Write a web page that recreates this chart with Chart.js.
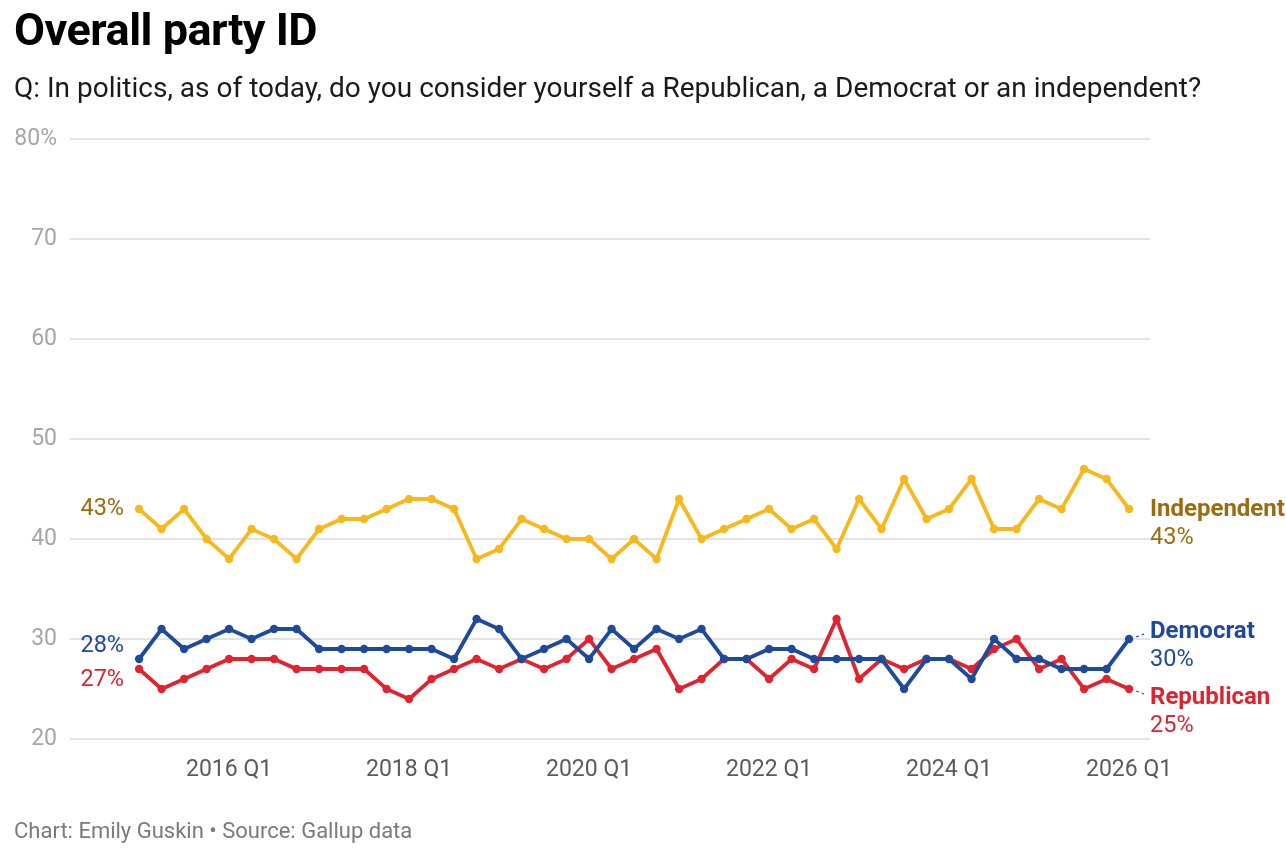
<!DOCTYPE html>
<html>
<head>
<meta charset="utf-8">
<script src="https://cdn.jsdelivr.net/npm/chart.js@4.4.1/dist/chart.umd.min.js"></script>
<style>
  body { margin: 0; background: #fff; font-family: Roboto, sans-serif; }
  #wrap { position: relative; width: 1286px; height: 858px; overflow: hidden; }
  #chart { position: absolute; left: 0; top: 0; }
  .txt { position: absolute; left: 14px; white-space: nowrap; line-height: 1; }
  #title { top: 7px; font-size: 45px; font-weight: 700; color: #000; letter-spacing: -0.5px; }
  #subtitle { top: 74px; font-size: 28px; color: #1a1a1a; }
  #footer { top: 820px; font-size: 22px; color: #7a7a7a; }
</style>
</head>
<body>
<div id="wrap">
  <canvas id="chart" width="1286" height="858"></canvas>
  <div class="txt" id="title">Overall party ID</div>
  <div class="txt" id="subtitle">Q: In politics, as of today, do you consider yourself a Republican, a Democrat or an independent?</div>
  <div class="txt" id="footer">Chart: Emily Guskin • Source: Gallup data</div>
</div>
<script>
// Dados
const quarters = [
  '2015 Q1','2015 Q2','2015 Q3','2015 Q4',
  '2016 Q1','2016 Q2','2016 Q3','2016 Q4',
  '2017 Q1','2017 Q2','2017 Q3','2017 Q4',
  '2018 Q1','2018 Q2','2018 Q3','2018 Q4',
  '2019 Q1','2019 Q2','2019 Q3','2019 Q4',
  '2020 Q1','2020 Q2','2020 Q3','2020 Q4',
  '2021 Q1','2021 Q2','2021 Q3','2021 Q4',
  '2022 Q1','2022 Q2','2022 Q3','2022 Q4',
  '2023 Q1','2023 Q2','2023 Q3','2023 Q4',
  '2024 Q1','2024 Q2','2024 Q3','2024 Q4',
  '2025 Q1','2025 Q2','2025 Q3','2025 Q4',
  '2026 Q1'
];
const independent = [43,41,43,40,38,41,40,38,41,42,42,43,44,44,43,38,39,42,41,40,40,38,40,38,44,40,41,42,43,41,42,39,44,41,46,42,43,46,41,41,44,43,47,46,43];
const democrat    = [28,31,29,30,31,30,31,31,29,29,29,29,29,29,28,32,31,28,29,30,28,31,29,31,30,31,28,28,29,29,28,28,28,28,25,28,28,26,30,28,28,27,27,27,30];
const republican  = [27,25,26,27,28,28,28,27,27,27,27,25,24,26,27,28,27,28,27,28,30,27,28,29,25,26,28,28,26,28,27,32,26,28,27,28,28,27,29,30,27,28,25,26,25];
const xTickLabels = ['2016 Q1','2018 Q1','2020 Q1','2022 Q1','2024 Q1','2026 Q1'];
const yTicks = [20,30,40,50,60,70,80];

const series = [
  { name: 'Independent', values: independent, line: '#f6b81c', text: '#9c6b0e', leftShift: 0, rightShift: 0 },
  { name: 'Democrat',    values: democrat,    line: '#1f4a99', text: '#1f4a99', leftShift: -13, rightShift: -8 },
  { name: 'Republican',  values: republican,  line: '#e0232f', text: '#e0232f', leftShift: 11, rightShift: 8 }
];

const FONT = 'Roboto, sans-serif';

// Rótulos das séries nas pontas das linhas
const endLabels = {
  id: 'endLabels',
  afterDatasetsDraw(chart) {
    const ctx = chart.ctx;
    const xs = chart.scales.x, ys = chart.scales.y;
    const last = quarters.length - 1;
    ctx.save();
    series.forEach(s => {
      const first = s.values[0];
      const end = s.values[last];
      // esquerda
      ctx.font = '400 23.5px ' + FONT;
      ctx.fillStyle = s.text;
      ctx.textAlign = 'right';
      ctx.textBaseline = 'middle';
      ctx.fillText(first + '%', xs.getPixelForValue(0) - 15, ys.getPixelForValue(first) + s.leftShift);
      // direita
      const px = xs.getPixelForValue(last);
      const py = ys.getPixelForValue(end);
      const ny = py + s.rightShift;
      if (s.rightShift !== 0) {
        ctx.strokeStyle = s.text;
        ctx.lineWidth = 1.2;
        ctx.setLineDash([3, 3]);
        ctx.beginPath();
        ctx.moveTo(px + 7, py + (s.rightShift > 0 ? 2 : -2));
        ctx.lineTo(px + 15, ny + (s.rightShift > 0 ? -3 : 3));
        ctx.stroke();
        ctx.setLineDash([]);
      }
      ctx.textAlign = 'left';
      ctx.font = '700 24px ' + FONT;
      ctx.fillText(s.name, xs.right, ny + 1);
      ctx.font = '400 23.5px ' + FONT;
      ctx.fillText(end + '%', xs.right, ny + 29);
    });
    ctx.restore();
  }
};

const ctx = document.getElementById('chart').getContext('2d');
const myChart = new Chart(ctx, {
  type: 'line',
  data: {
    datasets: series.map(s => ({
      label: s.name,
      data: s.values.map((v, i) => ({ x: i, y: v })),
      borderColor: s.line,
      backgroundColor: s.line,
      borderWidth: 3.8,
      pointRadius: 4.2,
      pointHoverRadius: 4.2,
      pointBorderWidth: 0,
      tension: 0
    }))
  },
  options: {
    responsive: false,
    animation: false,
    events: [],
    layout: { padding: { top: 139, left: 0, right: 136, bottom: 69 } },
    plugins: {
      legend: { display: false },
      tooltip: { enabled: false }
    },
    scales: {
      x: {
        type: 'linear',
        min: -3.07,
        max: 44.93,
        afterBuildTicks: scale => {
          scale.ticks = xTickLabels.map(l => ({ value: quarters.indexOf(l) }));
        },
        afterFit: scale => { scale.height = 50; },
        ticks: {
          callback: v => quarters[v],
          color: '#5a5a5a',
          font: { family: FONT, size: 23 },
          padding: 9,
          maxRotation: 0,
          autoSkip: false
        },
        grid: { display: false },
        border: { display: false }
      },
      y: {
        min: 20,
        max: 80,
        afterBuildTicks: scale => {
          scale.ticks = yTicks.map(v => ({ value: v }));
        },
        afterFit: scale => { scale.width = 70; },
        ticks: {
          callback: v => v === 80 ? v + '%' : v,
          color: '#a6a6a6',
          font: { family: FONT, size: 23 },
          padding: 13
        },
        grid: { color: '#e3e3e3', lineWidth: 2, drawTicks: false },
        border: { display: false }
      }
    }
  },
  plugins: [endLabels]
});
</script>
</body>
</html>
